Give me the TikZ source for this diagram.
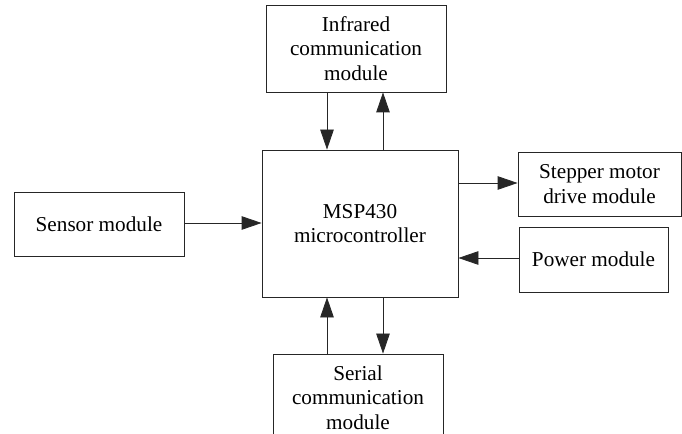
\documentclass[tikz,border=0pt]{standalone}
\usepackage{fontspec}
\setmainfont{Liberation Serif}
\usetikzlibrary{arrows.meta}
\begin{document}
\begin{tikzpicture}[x=1bp,y=-1bp,
  box/.style={draw=black!85,line width=0.8bp,align=center,inner sep=0pt,font=\fontsize{21.2bp}{24.5bp}\selectfont},
  arr/.style={draw=black!85,line width=0.8bp,-{Triangle[length=20bp,width=13.5bp]}}]
\useasboundingbox (0,0) rectangle (682,434);
\node[box,minimum width=180bp,minimum height=87bp] (ir) at (356,48.5) {Infrared\\communication\\module};
\node[box,minimum width=196bp,minimum height=147bp] (msp) at (360,223.5) {MSP430\\microcontroller};
\node[box,minimum width=170bp,minimum height=87bp] (ser) at (358,397.5) {Serial\\communication\\module};
\node[box,minimum width=163bp,minimum height=64bp] (step) at (599.5,184) {Stepper motor\\drive module};
\node[box,minimum width=149bp,minimum height=65bp] (pow) at (593.5,259.5) {Power module};
\node[box,minimum width=170bp,minimum height=64bp] (sen) at (99,224) {Sensor module};
\draw[arr] (ir.south -| 327,0) -- (msp.north -| 327,0);
\draw[arr] (msp.north -| 383,0) -- (ir.south -| 383,0);
\draw[arr] (ser.north -| 327,0) -- (msp.south -| 327,0);
\draw[arr] (msp.south -| 383,0) -- (ser.north -| 383,0);
\draw[arr] (msp.east |- 0,183) -- (step.west |- 0,183);
\draw[arr] (pow.west |- 0,258) -- (msp.east |- 0,258);
\draw[arr] (sen.east |- 0,223) -- (msp.west |- 0,223);
\end{tikzpicture}
\end{document}
